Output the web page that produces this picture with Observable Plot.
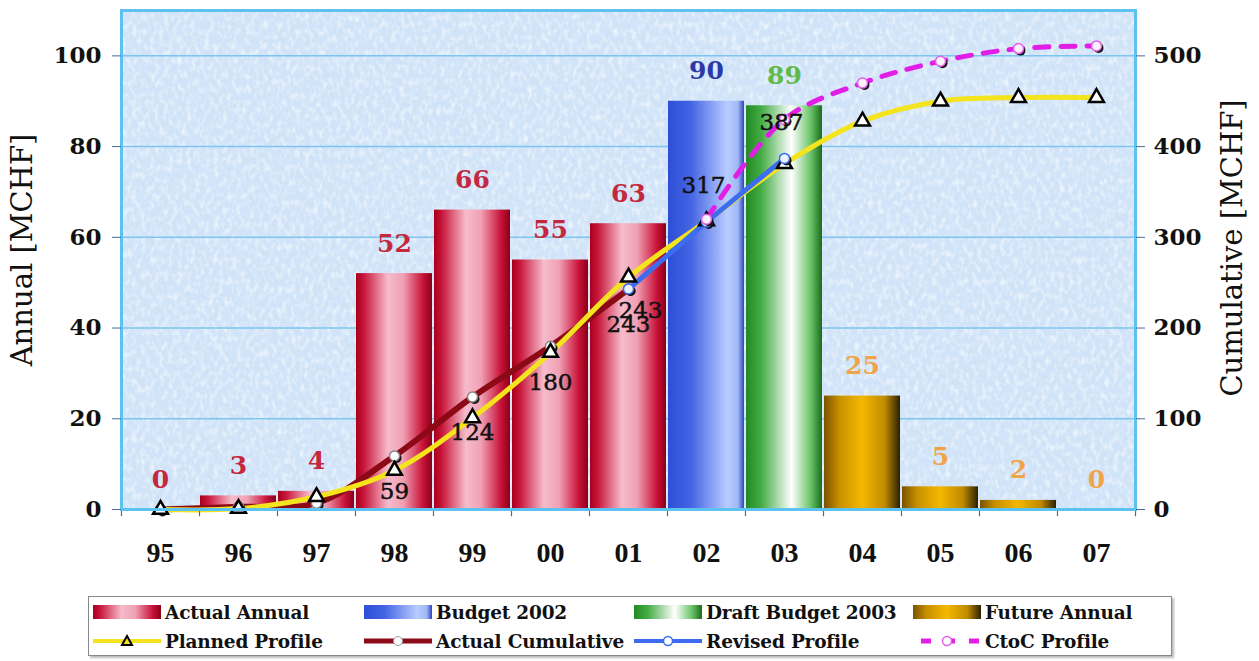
<!DOCTYPE html>
<html><head><meta charset="utf-8">
<script src="https://cdn.jsdelivr.net/npm/d3@7"></script>
<script src="https://cdn.jsdelivr.net/npm/@observablehq/plot@0.6"></script>
<style>
body{margin:0;background:#fff;width:1259px;height:661px;overflow:hidden;font-family:"DejaVu Serif",serif;position:relative}
#chart svg{display:block}
#legend{position:absolute;left:88px;top:596px;width:1082px;height:58px;border:1px solid #888;box-shadow:2px 2px 2px #bbb;background:#fff;}
.item{position:absolute;display:flex;align-items:center;font-weight:bold;font-size:18.5px;color:#111;height:22px;white-space:nowrap;letter-spacing:-0.2px}
.sw{width:68px;height:14px;margin-right:4px;flex:none}
</style></head>
<body><div id="chart"></div><div id="legend"></div>
<script>
// ---------------- data ----------------
const years = ["95","96","97","98","99","00","01","02","03","04","05","06","07"];
const annualValues = [0,3,4,52,66,55,63,90,89,25,5,2,0];
const annualSeries = ["Actual Annual","Actual Annual","Actual Annual","Actual Annual","Actual Annual","Actual Annual","Actual Annual","Budget 2002","Draft Budget 2003","Future Annual","Future Annual","Future Annual","Future Annual"];
const seriesNames = ["Actual Annual","Budget 2002","Draft Budget 2003","Future Annual"];
const plannedProfile = [0,1,14,43,101,173,256,318,381,428,450,454,454];
const actualCumYears = ["95","96","97","98","99","00","01"];
const actualCumulative = [0,3,7,59,124,180,243];
const revisedYears = ["01","02","03"];
const revisedProfile = [243,317,387];
const ctocYears = ["02","03","04","05","06","07"];
const ctocProfile = [320,430,470,494,508,511];
const leftTicks = [0,20,40,60,80,100];
const cumLabelYears = ["98","99","00","01","01","02","03"];
const cumLabelValues = [59,124,180,243,243,317,387];
const cumLabelKinds = ["below","below","below","below","right","above","above"];
const legendRow1 = ["Actual Annual","Budget 2002","Draft Budget 2003","Future Annual"];
const legendRow2 = ["Planned Profile","Actual Cumulative","Revised Profile","CtoC Profile"];

// ---------------- styles ----------------
const ratio = 5; // right axis (0-550) vs left axis (0-110)
const labelColors = ["#c4283e","#2b3aa6","#5fba4c","#f0a44a"];
const gradIds = ["gRed","gBlue","gGreen","gGold"];
const gradStops = {
  gRed:[[0,"#a8001c"],[0.1,"#c8143a"],[0.42,"#f6bccb"],[0.62,"#f0a0b4"],[0.88,"#c81238"],[1,"#8a0018"]],
  gBlue:[[0,"#2e4ed6"],[0.3,"#4464e4"],[0.78,"#b8ccff"],[0.92,"#a0b8f4"],[1,"#2a44c0"]],
  gGreen:[[0,"#238a23"],[0.2,"#44ac44"],[0.6,"#ffffff"],[0.85,"#6ac46a"],[1,"#1a6c1a"]],
  gGold:[[0,"#7a5200"],[0.2,"#c89000"],[0.5,"#f4b800"],[0.8,"#c08a00"],[1,"#2a2000"]]
};
const F = "DejaVu Serif";

const bars = years.map((y,i)=>({year:y, value:annualValues[i], series:annualSeries[i]}));
const planned = years.map((y,i)=>({year:y, value:plannedProfile[i]/ratio}));
const actual = actualCumYears.map((y,i)=>({year:y, value:actualCumulative[i]/ratio}));
const revised = revisedYears.map((y,i)=>({year:y, value:revisedProfile[i]/ratio}));
const ctoc = ctocYears.map((y,i)=>({year:y, value:ctocProfile[i]/ratio}));
const cumLabels = cumLabelYears.map((y,i)=>({year:y, value:cumLabelValues[i]/ratio, text:String(cumLabelValues[i]), kind:cumLabelKinds[i]}));

function markerSet(data, sym, fill, stroke){
  return [
    Plot.dot(data,{x:"year",y:"value",symbol:sym,r:5,fill:"#151515",dx:2,dy:2}),
    Plot.dot(data,{x:"year",y:"value",symbol:sym,r:5,fill,stroke,strokeWidth:1.5})
  ];
}
const labelStyle = {fontSize:23,fontFamily:F,fill:"#111",stroke:"#111",strokeWidth:0.5};

const chart = Plot.plot({
  width:1259, height:590,
  marginLeft:121, marginRight:124, marginTop:10, marginBottom:81,
  x:{domain:years, paddingInner:0.02, paddingOuter:0, axis:null},
  y:{domain:[0,110], axis:null},
  color:{domain:seriesNames, range:labelColors},
  style:{fontFamily:F, background:"white", overflow:"visible"},
  marks:[
    Plot.frame({fill:"#d0e3f8", stroke:"none"}),
    Plot.frame({fill:"#ffffff", stroke:"none"}),
    Plot.ruleY(leftTicks.slice(1), {stroke:"#7cc6ee", strokeWidth:1.5}),
    ...seriesNames.map((s,k)=>Plot.barY(bars,{filter:d=>d.series===s, x:"year", y:"value", fill:`url(#${gradIds[k]})`})),
    Plot.line(actual,{x:"year",y:"value",stroke:"#8c0a16",strokeWidth:6,curve:"catmull-rom"}),
    Plot.line(planned,{x:"year",y:"value",stroke:"#f4e41e",strokeWidth:5,curve:"catmull-rom"}),
    Plot.line(revised,{x:"year",y:"value",stroke:"#3c6cf0",strokeWidth:5}),
    Plot.line(ctoc,{x:"year",y:"value",stroke:"#e21ee6",strokeWidth:5,strokeDasharray:"14,12",curve:"catmull-rom"}),
    ...markerSet(actual,"circle","white","#888"),
    Plot.dot(planned,{x:"year",y:"value",symbol:"triangle",r:5.5,fill:"white",stroke:"#000",strokeWidth:2.5}),
    ...markerSet(revised,"circle","#eef4ff","#3c6cf0"),
    ...markerSet(ctoc,"circle","#fff0ff","#e060e6"),
    Plot.text(bars,{x:"year",y:"value",text:d=>String(d.value),fill:"series",dy:-30,fontSize:25,fontWeight:"bold",fontFamily:F}),
    Plot.text(cumLabels,{filter:d=>d.kind==="below",x:"year",y:"value",text:"text",dy:36,...labelStyle}),
    Plot.text(cumLabels,{filter:d=>d.kind==="right",x:"year",y:"value",text:"text",dx:12,dy:22,...labelStyle}),
    Plot.text(cumLabels,{filter:d=>d.kind==="above",x:"year",y:"value",text:"text",dx:-3,dy:-36,...labelStyle}),
    Plot.ruleX(years,{x:d=>d,y1:0,y2:-1.6,dx:-39,stroke:"#4a6a9a",strokeWidth:1.2}),
    Plot.ruleX(years.slice(-1),{x:d=>d,y1:0,y2:-1.6,dx:39,stroke:"#4a6a9a",strokeWidth:1.2}),
    Plot.frame({stroke:"#5ec2f0", strokeWidth:3}),
    Plot.axisY(leftTicks,{anchor:"left",tickSize:9,tickPadding:11,fontSize:23,fontWeight:"bold",fontFamily:F,stroke:"#4a6a9a",fill:"#111",label:null}),
    Plot.axisY(leftTicks,{anchor:"right",tickSize:9,tickPadding:9,tickFormat:d=>String(d*ratio),fontSize:23,fontWeight:"bold",fontFamily:F,stroke:"#4a6a9a",fill:"#111",label:null}),
    Plot.axisX({anchor:"bottom",tickSize:0,tickPadding:33,fontSize:28,fontWeight:"bold",fontFamily:"Liberation Serif",fill:"#111",label:null}),
    Plot.text(["Annual [MCHF]"],{frameAnchor:"left",textAnchor:"middle",dx:-99,dy:-10,rotate:-90,fontSize:29,fontFamily:F,fill:"#111"}),
    Plot.text(["Cumulative [MCHF]"],{frameAnchor:"right",textAnchor:"middle",dx:97,dy:-12,rotate:-90,fontSize:29,fontFamily:F,fill:"#111"})
  ]
});

// gradients and background texture
const defs = d3.select(chart).insert("defs",":first-child");
for (const id of gradIds){
  const g = defs.append("linearGradient").attr("id",id).attr("x1",0).attr("x2",1).attr("y1",0).attr("y2",0);
  for (const [o,c] of gradStops[id]) g.append("stop").attr("offset",o).attr("stop-color",c);
}
const filt = defs.append("filter").attr("id","noise").attr("x",0).attr("y",0).attr("width",1).attr("height",1);
filt.append("feTurbulence").attr("type","fractalNoise").attr("baseFrequency","0.22 0.14").attr("numOctaves",2).attr("seed",7).attr("result","t");
filt.append("feColorMatrix").attr("in","t").attr("type","matrix")
  .attr("values","0 0 0 0 1  0 0 0 0 1  0 0 0 0 1  1.5 0 0 0 -0.65").attr("result","c");
filt.append("feComposite").attr("in","c").attr("in2","SourceGraphic").attr("operator","in");
const frames = chart.querySelectorAll('[aria-label="frame"]');
if (frames.length > 1) frames[1].setAttribute("filter","url(#noise)");
document.getElementById("chart").appendChild(chart);

// ---------------- legend ----------------
const legend = document.getElementById("legend");
const colLeft = [4,275,545,824];
function cssGrad(id){ return "linear-gradient(to right," + gradStops[id].map(([o,c])=>`${c} ${o*100}%`).join(",") + ")"; }
legendRow1.forEach((name,k)=>{
  const it = document.createElement("div"); it.className="item";
  it.style.left=colLeft[k]+"px"; it.style.top="4px";
  it.innerHTML = `<div class="sw" style="background:${cssGrad(gradIds[k])}"></div><span>${name}</span>`;
  legend.appendChild(it);
});
const lineSw = [
  `<line x1="0" x2="68" y1="7" y2="7" stroke="#f4e41e" stroke-width="4"/><path d="M34,2 L39,11 L29,11 Z" fill="#f4e41e" stroke="#000" stroke-width="2"/>`,
  `<line x1="0" x2="68" y1="7" y2="7" stroke="#8c0a16" stroke-width="5"/><circle cx="34" cy="7" r="4.5" fill="#fff" stroke="#999"/>`,
  `<line x1="0" x2="68" y1="7" y2="7" stroke="#3c6cf0" stroke-width="4"/><circle cx="34" cy="7" r="4.5" fill="#fff" stroke="#3c6cf0" stroke-width="1.5"/>`,
  `<line x1="0" x2="68" y1="7" y2="7" stroke="#e21ee6" stroke-width="5" stroke-dasharray="10,14" stroke-dashoffset="-8"/><circle cx="34" cy="7" r="4.5" fill="#fff" stroke="#e060e6" stroke-width="1.5"/>`
];
legendRow2.forEach((name,k)=>{
  const it = document.createElement("div"); it.className="item";
  it.style.left=colLeft[k]+"px"; it.style.top="33px";
  it.innerHTML = `<svg class="sw" width="68" height="14">${lineSw[k]}</svg><span>${name}</span>`;
  legend.appendChild(it);
});
</script></body></html>
